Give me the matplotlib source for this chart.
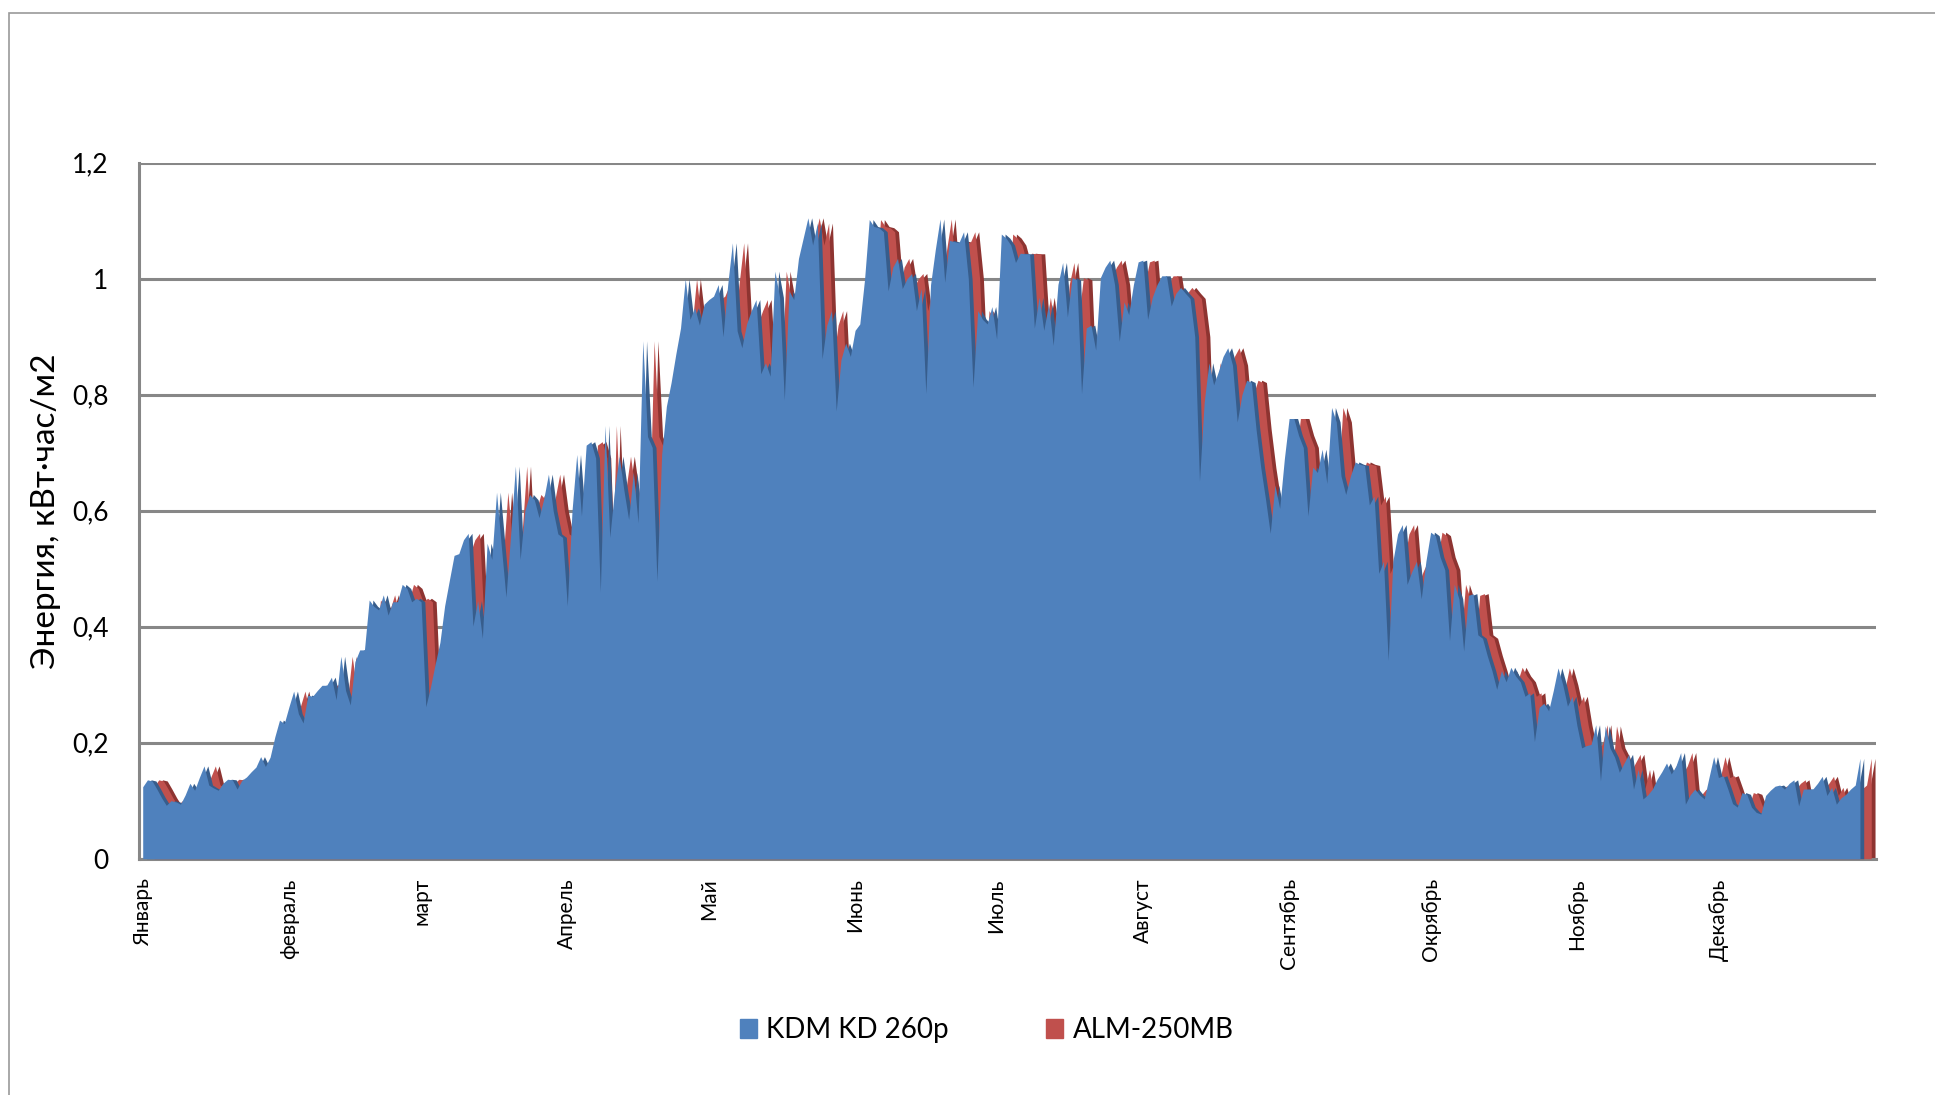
import numpy as np
import matplotlib.pyplot as plt
from matplotlib.patches import Patch, Rectangle

# month labels sit at the first day of each month
months = ['Январь', 'февраль', 'март', 'Апрель', 'Май', 'Июнь',
          'Июль', 'Август', 'Сентябрь', 'Окрябрь', 'Ноябрь', 'Декабрь']
month_start = [0, 31, 59, 90, 120, 151, 181, 212, 243, 273, 304, 334]

# daily energy, kWh/m2
kdm_jan_mar = [
    0.124, 0.136, 0.134, 0.120, 0.105, 0.092, 0.100, 0.098, 0.094, 0.110,
    0.130, 0.118, 0.140, 0.160, 0.127, 0.122, 0.118, 0.130, 0.137, 0.136,
    0.120, 0.135, 0.141, 0.150, 0.158, 0.176, 0.159, 0.175, 0.210, 0.239,
    0.233, 0.262, 0.289, 0.250, 0.234, 0.282, 0.280, 0.290, 0.299, 0.299,
    0.313, 0.274, 0.349, 0.290, 0.265, 0.340, 0.360, 0.360, 0.446, 0.435,
    0.429, 0.455, 0.420, 0.443, 0.443, 0.473, 0.466, 0.443, 0.449, 0.443,
    0.262, 0.296, 0.336, 0.373, 0.436, 0.480, 0.523, 0.526, 0.550, 0.561,
    0.401, 0.445, 0.380, 0.544, 0.516, 0.632, 0.540, 0.451, 0.560, 0.677,
    0.516, 0.600, 0.628, 0.619, 0.588, 0.620, 0.663, 0.600, 0.560, 0.554,
]
kdm_apr_jun = [
    0.436, 0.600, 0.697, 0.591, 0.713, 0.719, 0.691, 0.460, 0.747, 0.554,
    0.635, 0.694, 0.635, 0.585, 0.666, 0.579, 0.893, 0.728, 0.709, 0.479,
    0.697, 0.780, 0.821, 0.870, 0.915, 1.000, 0.930, 0.950, 0.920, 0.956,
    0.964, 0.970, 0.990, 0.900, 0.990, 1.062, 0.910, 0.881, 0.922, 0.945,
    0.964, 0.836, 0.855, 0.832, 1.013, 0.968, 0.791, 0.979, 0.964, 1.035,
    1.070, 1.105, 1.058, 1.096, 0.862, 0.920, 0.945, 0.772, 0.860, 0.889,
    0.866, 0.911, 0.922, 0.998, 1.102, 1.090, 1.088, 1.081, 0.979, 1.020,
    1.035, 0.983, 1.000, 1.009, 0.945, 0.983, 0.802, 0.990, 1.050, 1.103,
    0.994, 1.066, 1.064, 1.062, 1.081, 1.000, 0.813, 0.945, 0.930, 0.922,
    0.952,
]
kdm_jul_sep = [
    0.896, 1.077, 1.070, 1.058, 1.028, 1.044, 1.043, 1.043, 0.915, 0.968,
    0.911, 0.956, 0.885, 0.990, 1.028, 0.934, 1.002, 0.998, 0.802, 0.915,
    0.920, 0.877, 1.002, 1.020, 1.032, 0.990, 0.892, 0.960, 0.938, 0.990,
    1.029, 1.032, 0.930, 0.968, 0.990, 1.005, 1.005, 0.953, 0.975, 0.985,
    0.975, 0.966, 0.900, 0.651, 0.787, 0.855, 0.817, 0.840, 0.866, 0.881,
    0.851, 0.753, 0.800, 0.825, 0.821, 0.740, 0.674, 0.620, 0.561, 0.644,
    0.604, 0.690, 0.759, 0.759, 0.730, 0.709, 0.591, 0.675, 0.666, 0.706,
    0.647, 0.778, 0.753, 0.660, 0.628, 0.660, 0.684, 0.680, 0.678, 0.610,
    0.625, 0.492,
]
kdm_oct_dec = [
    0.513, 0.342, 0.513, 0.560, 0.576, 0.473, 0.495, 0.513, 0.448, 0.513,
    0.563, 0.557, 0.520, 0.498, 0.376, 0.473, 0.448, 0.358, 0.454, 0.457,
    0.386, 0.380, 0.350, 0.324, 0.292, 0.324, 0.305, 0.330, 0.315, 0.305,
    0.280, 0.286, 0.202, 0.261, 0.268, 0.255, 0.290, 0.329, 0.300, 0.263,
    0.280, 0.230, 0.191, 0.195, 0.197, 0.231, 0.134, 0.229, 0.191, 0.175,
    0.149, 0.165, 0.180, 0.120, 0.154, 0.103, 0.110, 0.120, 0.137, 0.150,
    0.165, 0.146, 0.160, 0.183, 0.094, 0.110, 0.120, 0.110, 0.103, 0.140,
    0.176, 0.140, 0.143, 0.120, 0.095, 0.089, 0.114, 0.111, 0.089, 0.080,
    0.077, 0.109, 0.118, 0.125, 0.127, 0.120, 0.130, 0.136, 0.091, 0.120,
    0.120, 0.120, 0.130, 0.142, 0.109, 0.123, 0.094, 0.105, 0.111, 0.120,
    0.127, 0.173,
]
kdm = np.array(kdm_jan_mar + kdm_apr_jun + kdm_jul_sep + kdm_oct_dec)
# the ALM curve reads the same as KDM on the picture, it only sits one row deeper
alm = kdm.copy()
days = np.arange(len(kdm))

plt.rcParams['font.family'] = ['Lato', 'DejaVu Sans']

fig = plt.figure(figsize=(19.35, 10.95), dpi=100)
ax = fig.add_axes([0.0718, 0.2158, 0.8977, 0.6356])

blue, blue_side = '#4F81BD', '#375D8C'
red, red_side = '#C0504D', '#8E3431'
depth = 0.8      # visible side of each ribbon, in days
row_shift = 2.4  # back row offset, in days

# back row (ALM) then front row (KDM), each with its darker side face
ax.fill_between(days + row_shift + depth, 0, alm, color=red_side, lw=0, zorder=2)
ax.fill_between(days + row_shift, 0, alm, color=red, lw=0, zorder=3)
ax.fill_between(days + depth, 0, kdm, color=blue_side, lw=0, zorder=4)
ax.fill_between(days, 0, kdm, color=blue, lw=0, zorder=5)

ax.set_ylim(0, 1.2)
ax.set_xlim(-0.8, len(kdm) - 1 + 3.4)
yt = np.arange(0, 1.21, 0.2)
ax.set_yticks(yt)
ax.set_yticklabels(['0', '0,2', '0,4', '0,6', '0,8', '1', '1,2'], fontsize=19)
ax.yaxis.grid(True, color='#878787', lw=2.2, zorder=1)
ax.set_axisbelow(True)
ax.tick_params(axis='y', length=0, pad=22)

ax.set_xticks(month_start)
ax.set_xticklabels(months, rotation=90, fontsize=15, va='top')
ax.tick_params(axis='x', length=0, pad=14)

for side in ['top', 'right']:
    ax.spines[side].set_visible(False)
for side in ['left', 'bottom']:
    ax.spines[side].set_color('#878787')
    ax.spines[side].set_linewidth(2.2)

ax.set_ylabel('Энергия, кВт·час/м2', fontsize=24, labelpad=8)

handles = [Patch(color=blue, label='KDM KD 260p'),
           Patch(color=red, label='ALM-250MB')]
fig.legend(handles=handles, loc='center', bbox_to_anchor=(0.51, 0.059),
           ncol=2, frameon=False, fontsize=20, handlelength=0.6,
           handleheight=0.7, handletextpad=0.35, columnspacing=3.5)

# chart area frame
fig.patches.append(Rectangle((0.0045, -0.01), 1.2, 1.0025 - 0.0045,
                             transform=fig.transFigure, fill=False,
                             edgecolor='#9A9A9A', lw=1.2))

fig.savefig('out.png', dpi=100)
